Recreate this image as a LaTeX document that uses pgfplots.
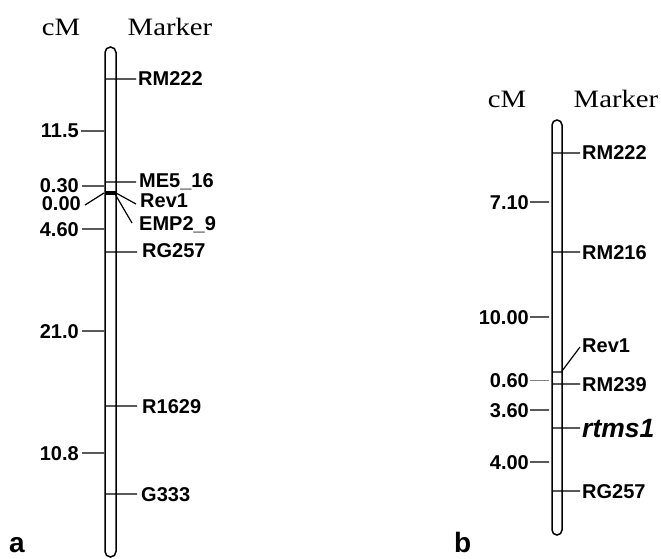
\documentclass[border=0pt]{standalone}
\usepackage{pgfplots}
\pgfplotsset{compat=1.18}
\usepackage{fontspec}
\setmainfont{Liberation Serif}
\newfontfamily\arial{Liberation Sans}
\pgfplotstableread{
x y label
138 86 RM222
139 187 ME5\_16
140 207 Rev1
139 230 EMP2\_9
142 257 RG257
142 413 R1629
141 501 G333
}\markersA
\pgfplotstableread{
x y label
79 138 11.5
79 192 0.30
81 210 0.00
79 236 4.60
79 338 21.0
79 460 10.8
}\cmA
\pgfplotstableread{
x y label
582 160 RM222
582 259 RM216
582 352 Rev1
582 391 RM239
582 498 RG257
}\markersB
\pgfplotstableread{
x y label
529 209 7.10
529 324 10.00
529 387 0.60
529 417 3.60
529 469 4.00
}\cmB
\begin{document}
\begin{tikzpicture}
\begin{axis}[
  scale only axis, width=661pt, height=559pt,
  xmin=0, xmax=661, ymin=0, ymax=559, y dir=reverse,
  hide axis, clip=false,
  every axis plot/.append style={black},
]
\path[draw=none] (rel axis cs:0,0) rectangle (rel axis cs:1,1);
% chromosome bars
\addplot[line width=1.5pt, rounded corners=5.5pt] coordinates {(105,300)(105,47)(116,47)(116,557)(105,557)(105,300)};
\addplot[line width=1.5pt, rounded corners=5pt] coordinates {(552,300)(552,120)(562,120)(562,535)(552,535)(552,300)};
% panel a marker ticks
\addplot[line width=1.2pt] table[empty line=jump] {
x y
105 79
136 79

105 182
136 182

105 252
137 252

105 406
137 406

105 494
137 494

81 131
104 131

82 186
104 186

82 229
104 229

82 331
104 331

82 453
104 453

104 193
85 205

116 193
136 204

115 194
132 223
};
\addplot[line width=3.5pt] coordinates {(105,193)(116,193)};
% panel b ticks
\addplot[line width=1.2pt] table[empty line=jump] {
x y
552 153
580 153

552 252
580 252

552 372
562 372

562 371
580 347

552 384
580 384

552 428
580 428

552 491
580 491

530 202
549 202

530 317
549 317

530 410
549 410

530 462
549 462
};
\addplot[line width=0.8pt, gray] coordinates {(530,380)(549,380)};
% labels
\addplot[only marks, mark=none, nodes near coords, point meta=explicit symbolic,
  nodes near coords style={anchor=base west, inner sep=0pt, font=\arial\bfseries\fontsize{20}{22}\selectfont}]
  table[meta=label] {\markersA};
\addplot[only marks, mark=none, nodes near coords, point meta=explicit symbolic,
  nodes near coords style={anchor=base east, inner sep=0pt, font=\arial\bfseries\fontsize{20}{22}\selectfont}]
  table[meta=label] {\cmA};
\addplot[only marks, mark=none, nodes near coords, point meta=explicit symbolic,
  nodes near coords style={anchor=base west, inner sep=0pt, font=\arial\bfseries\fontsize{20}{22}\selectfont}]
  table[meta=label] {\markersB};
\addplot[only marks, mark=none, nodes near coords, point meta=explicit symbolic,
  nodes near coords style={anchor=base east, inner sep=0pt, font=\arial\bfseries\fontsize{20}{22}\selectfont}]
  table[meta=label] {\cmB};
\addplot[only marks, mark=none, nodes near coords, point meta=explicit symbolic,
  nodes near coords style={anchor=base west, inner sep=0pt, font=\arial\bfseries\itshape\fontsize{26.5}{28}\selectfont}]
  coordinates {(582,437)[rtms1]};
% headers
\node[anchor=base, inner sep=0pt, font=\fontsize{25}{28}\selectfont] at (axis cs:61,36) {\scalebox{1.15}[1]{cM}};
\node[anchor=base, inner sep=0pt, font=\fontsize{25}{28}\selectfont] at (axis cs:170,36) {\scalebox{1.15}[1]{Marker}};
\node[anchor=base, inner sep=0pt, font=\fontsize{25}{28}\selectfont] at (axis cs:507,108) {\scalebox{1.15}[1]{cM}};
\node[anchor=base, inner sep=0pt, font=\fontsize{25}{28}\selectfont] at (axis cs:616,108) {\scalebox{1.15}[1]{Marker}};
\node[anchor=base west, inner sep=0pt, font=\arial\bfseries\fontsize{28}{30}\selectfont] at (axis cs:9,552) {a};
\node[anchor=base west, inner sep=0pt, font=\arial\bfseries\fontsize{28}{30}\selectfont] at (axis cs:454,552) {b};
\end{axis}
\end{tikzpicture}
\end{document}
